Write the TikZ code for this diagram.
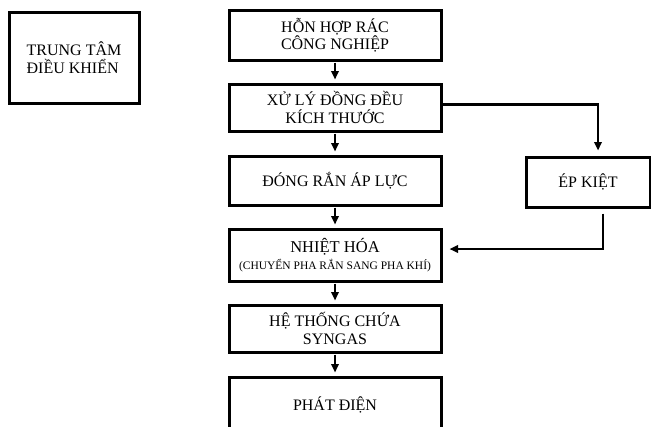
\documentclass[tikz,border=0pt]{standalone}
\usepackage{fontspec}
\setmainfont{Liberation Serif}
\usetikzlibrary{arrows.meta}
\tikzset{
  box/.style={draw=black, line width=3pt, rectangle, inner sep=0pt, align=center,
    font=\fontsize{16}{17.5}\selectfont},
  flow/.style={draw=black, line width=2.2pt, -{Triangle[length=8.5pt,width=7.5pt]}}
}
\begin{document}
\begin{tikzpicture}[x=1pt,y=-1pt]
\useasboundingbox (0,0) rectangle (651,426);
\clip (0,0) rectangle (651,426);
\node[box, minimum width=130pt, minimum height=91pt, align=left] (ctrl) at (74,57.5) {TRUNG TÂM\\ĐIỀU KHIỂN};
\node[box, minimum width=212pt, minimum height=50pt] (b1) at (335,35) {HỖN HỢP RÁC\\CÔNG NGHIỆP};
\node[box, minimum width=212pt, minimum height=47pt] (b2) at (335,107.5) {XỬ LÝ ĐỒNG ĐỀU\\KÍCH THƯỚC};
\node[box, minimum width=212pt, minimum height=49pt] (b3) at (335,180.5) {ĐÓNG RẮN ÁP LỰC};
\node[box, minimum width=212pt, minimum height=52pt] (b4) at (335,255) {{\fontsize{16.5}{16}\selectfont NHIỆT HÓA}\\[-1pt]{\fontsize{11.5}{12}\selectfont (CHUYỂN PHA RẮN SANG PHA KHÍ)}};
\node[box, minimum width=212pt, minimum height=47pt] (b5) at (335,328.5) {HỆ THỐNG CHỨA\\SYNGAS};
\node[box, minimum width=212pt, minimum height=55pt] (b6) at (335,404.5) {PHÁT ĐIỆN};
\node[box, minimum width=124pt, minimum height=50pt] (ep) at (588,182) {ÉP KIỆT};
\foreach \a/\b in {b1/b2,b2/b3,b3/b4,b4/b5,b5/b6}{
  \draw[flow, shorten <=1pt, shorten >=3pt] (\a.south) -- (\b.north);
}
\draw[flow, shorten >=5pt] ([yshift=3pt]b2.east) -| ([xshift=10pt]ep.north);
\draw[flow, shorten <=5pt, shorten >=7pt] ([xshift=15pt]ep.south) |- ([yshift=6pt]b4.east);
\end{tikzpicture}
\end{document}
